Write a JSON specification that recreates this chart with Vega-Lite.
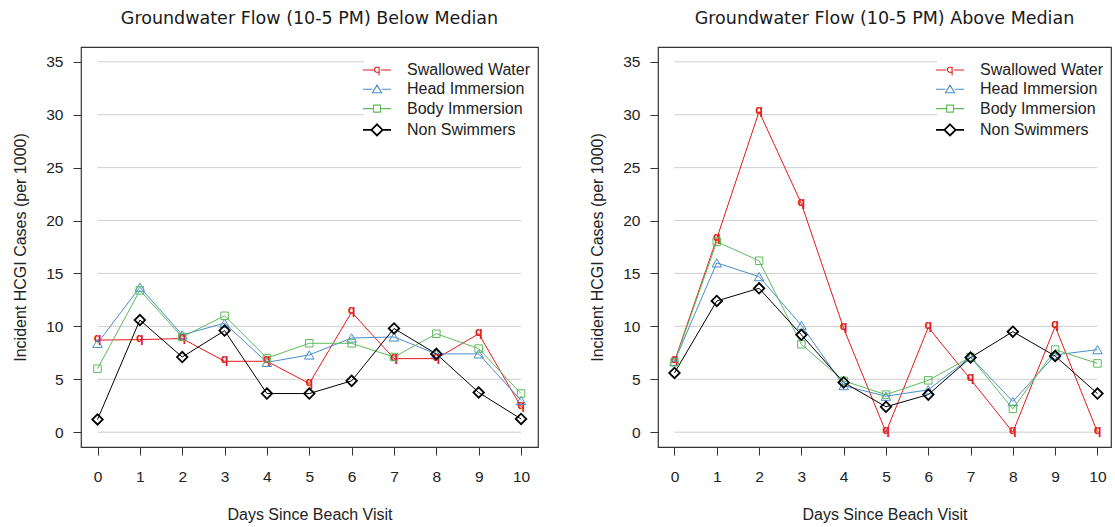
{
  "$schema": "https://vega.github.io/schema/vega-lite/v6.json",
  "background": "white",
  "padding": {"left": 12, "top": 8, "right": 0, "bottom": 0},
  "spacing": 120,
  "bounds": "flush",
  "config": {
    "font": "Liberation Sans",
    "view": {"stroke": "#333333", "strokeWidth": 1.2},
    "axis": {"domain": false, "grid": false, "tickColor": "#333333", "tickSize": 8, "tickWidth": 1, "labelFont": "Liberation Sans", "labelFontSize": 15.5, "labelColor": "#222222", "titleFont": "Liberation Sans", "titleFontSize": 16, "titleFontWeight": "normal", "titleColor": "#222222"},
    "axisX": {"labelPadding": 14, "titlePadding": 22},
    "axisY": {"labelPadding": 10, "titlePadding": 17},
    "title": {"font": "DejaVu Sans", "fontSize": 17.5, "fontWeight": "normal", "color": "#1a1a1a", "anchor": "middle", "baseline": "alphabetic", "offset": 20}
  },
  "datasets": {
    "below": [
      {"s": "Swallowed Water", "d": 0, "v": 8.7}, {"s": "Swallowed Water", "d": 1, "v": 8.75}, {"s": "Swallowed Water", "d": 2, "v": 8.85}, {"s": "Swallowed Water", "d": 3, "v": 6.7}, {"s": "Swallowed Water", "d": 4, "v": 6.7}, {"s": "Swallowed Water", "d": 5, "v": 4.6}, {"s": "Swallowed Water", "d": 6, "v": 11.35}, {"s": "Swallowed Water", "d": 7, "v": 6.95}, {"s": "Swallowed Water", "d": 8, "v": 6.95}, {"s": "Swallowed Water", "d": 9, "v": 9.3}, {"s": "Swallowed Water", "d": 10, "v": 2.4},
      {"s": "Head Immersion", "d": 0, "v": 8.4}, {"s": "Head Immersion", "d": 1, "v": 13.7}, {"s": "Head Immersion", "d": 2, "v": 9.2}, {"s": "Head Immersion", "d": 3, "v": 10.3}, {"s": "Head Immersion", "d": 4, "v": 6.6}, {"s": "Head Immersion", "d": 5, "v": 7.3}, {"s": "Head Immersion", "d": 6, "v": 8.9}, {"s": "Head Immersion", "d": 7, "v": 9.0}, {"s": "Head Immersion", "d": 8, "v": 7.4}, {"s": "Head Immersion", "d": 9, "v": 7.4}, {"s": "Head Immersion", "d": 10, "v": 3.0},
      {"s": "Body Immersion", "d": 0, "v": 6.0}, {"s": "Body Immersion", "d": 1, "v": 13.4}, {"s": "Body Immersion", "d": 2, "v": 9.0}, {"s": "Body Immersion", "d": 3, "v": 11.0}, {"s": "Body Immersion", "d": 4, "v": 7.0}, {"s": "Body Immersion", "d": 5, "v": 8.4}, {"s": "Body Immersion", "d": 6, "v": 8.4}, {"s": "Body Immersion", "d": 7, "v": 7.1}, {"s": "Body Immersion", "d": 8, "v": 9.3}, {"s": "Body Immersion", "d": 9, "v": 7.9}, {"s": "Body Immersion", "d": 10, "v": 3.65},
      {"s": "Non Swimmers", "d": 0, "v": 1.2}, {"s": "Non Swimmers", "d": 1, "v": 10.6}, {"s": "Non Swimmers", "d": 2, "v": 7.1}, {"s": "Non Swimmers", "d": 3, "v": 9.6}, {"s": "Non Swimmers", "d": 4, "v": 3.65}, {"s": "Non Swimmers", "d": 5, "v": 3.65}, {"s": "Non Swimmers", "d": 6, "v": 4.85}, {"s": "Non Swimmers", "d": 7, "v": 9.8}, {"s": "Non Swimmers", "d": 8, "v": 7.4}, {"s": "Non Swimmers", "d": 9, "v": 3.75}, {"s": "Non Swimmers", "d": 10, "v": 1.25}
    ],
    "above": [
      {"s": "Swallowed Water", "d": 0, "v": 6.7}, {"s": "Swallowed Water", "d": 1, "v": 18.3}, {"s": "Swallowed Water", "d": 2, "v": 30.3}, {"s": "Swallowed Water", "d": 3, "v": 21.6}, {"s": "Swallowed Water", "d": 4, "v": 9.8}, {"s": "Swallowed Water", "d": 5, "v": 0}, {"s": "Swallowed Water", "d": 6, "v": 9.9}, {"s": "Swallowed Water", "d": 7, "v": 5.0}, {"s": "Swallowed Water", "d": 8, "v": 0}, {"s": "Swallowed Water", "d": 9, "v": 10.0}, {"s": "Swallowed Water", "d": 10, "v": 0},
      {"s": "Head Immersion", "d": 0, "v": 6.7}, {"s": "Head Immersion", "d": 1, "v": 16.0}, {"s": "Head Immersion", "d": 2, "v": 14.7}, {"s": "Head Immersion", "d": 3, "v": 10.1}, {"s": "Head Immersion", "d": 4, "v": 4.4}, {"s": "Head Immersion", "d": 5, "v": 3.4}, {"s": "Head Immersion", "d": 6, "v": 4.0}, {"s": "Head Immersion", "d": 7, "v": 7.1}, {"s": "Head Immersion", "d": 8, "v": 2.9}, {"s": "Head Immersion", "d": 9, "v": 7.3}, {"s": "Head Immersion", "d": 10, "v": 7.8},
      {"s": "Body Immersion", "d": 0, "v": 6.6}, {"s": "Body Immersion", "d": 1, "v": 18.0}, {"s": "Body Immersion", "d": 2, "v": 16.2}, {"s": "Body Immersion", "d": 3, "v": 8.3}, {"s": "Body Immersion", "d": 4, "v": 4.85}, {"s": "Body Immersion", "d": 5, "v": 3.55}, {"s": "Body Immersion", "d": 6, "v": 4.9}, {"s": "Body Immersion", "d": 7, "v": 7.1}, {"s": "Body Immersion", "d": 8, "v": 2.2}, {"s": "Body Immersion", "d": 9, "v": 7.8}, {"s": "Body Immersion", "d": 10, "v": 6.5},
      {"s": "Non Swimmers", "d": 0, "v": 5.6}, {"s": "Non Swimmers", "d": 1, "v": 12.4}, {"s": "Non Swimmers", "d": 2, "v": 13.6}, {"s": "Non Swimmers", "d": 3, "v": 9.2}, {"s": "Non Swimmers", "d": 4, "v": 4.7}, {"s": "Non Swimmers", "d": 5, "v": 2.4}, {"s": "Non Swimmers", "d": 6, "v": 3.55}, {"s": "Non Swimmers", "d": 7, "v": 7.05}, {"s": "Non Swimmers", "d": 8, "v": 9.5}, {"s": "Non Swimmers", "d": 9, "v": 7.2}, {"s": "Non Swimmers", "d": 10, "v": 3.65}
    ]
  },
  "hconcat": [
    {
      "width": 457, "height": 400,
      "title": "Groundwater Flow (10-5 PM) Below Median",
      "layer": [
        {"data": {"values": [{"v": 0}, {"v": 5}, {"v": 10}, {"v": 15}, {"v": 20}, {"v": 25}, {"v": 30}, {"v": 35}]}, "mark": {"type": "rule", "color": "#cfcfcf", "strokeWidth": 1},
         "encoding": {
           "y": {"field": "v", "type": "quantitative", "scale": {"domain": [-1.4, 36.4], "nice": false, "zero": false}, "axis": {"title": "Incident HCGI Cases (per 1000)", "values": [0, 5, 10, 15, 20, 25, 30, 35]}},
           "x": {"datum": 0, "type": "quantitative", "scale": {"domain": [-0.39, 10.4], "nice": false, "zero": false}, "axis": {"title": "Days Since Beach Visit", "values": [0, 1, 2, 3, 4, 5, 6, 7, 8, 9, 10]}},
           "x2": {"datum": 10}}},
        {"data": {"name": "below"}, "mark": {"type": "line"},
         "encoding": {
           "x": {"field": "d", "type": "quantitative", "title": "Days Since Beach Visit"},
           "y": {"field": "v", "type": "quantitative", "title": "Incident HCGI Cases (per 1000)"},
           "color": {"field": "s", "type": "nominal", "scale": {"domain": ["Swallowed Water", "Head Immersion", "Body Immersion", "Non Swimmers"], "range": ["#E41A1C", "#4A8CC8", "#5DBB5A", "#000000"]},
             "legend": {"title": " ", "titleFontSize": 1, "titlePadding": 7, "orient": "top-right", "offset": 2, "padding": 5, "fillColor": "white", "labelFont": "Liberation Sans", "labelFontSize": 16, "labelColor": "#222222", "symbolSize": 196, "labelOffset": 22, "rowPadding": 3.3, "symbolStrokeWidth": 1.2,
               "encode": {"symbols": {"update": {
                 "shape": {"signal": "datum.value === 'Swallowed Water' ? 'M-2,0H-0.55M0.55,0H2M0.3,-0.45V0.75M0.3,-0.4H-0.12L-0.36,-0.2V0.12L-0.12,0.32H0.3' : datum.value === 'Head Immersion' ? 'M-2,0H-0.65M0.65,0H2M0,-0.6L0.65,0.5L-0.65,0.5Z' : datum.value === 'Body Immersion' ? 'M-2,0H-0.55M0.55,0H2M-0.5,-0.5H0.5V0.5H-0.5Z' : 'M-2,0H-0.8M0.8,0H2M0,-0.8L0.8,0L0,0.8L-0.8,0Z'"},
                 "strokeWidth": {"signal": "datum.value === 'Non Swimmers' ? 1.8 : 1.1"},
                 "fill": {"value": "transparent"}}}}}},
           "strokeWidth": {"field": "s", "type": "nominal", "scale": {"domain": ["Swallowed Water", "Head Immersion", "Body Immersion", "Non Swimmers"], "range": [1, 1, 1, 1.8]}, "legend": null}
         }},
        {"data": {"name": "below"}, "transform": [{"filter": "datum.s === 'Swallowed Water'"}], "mark": {"type": "text", "text": "q", "color": "#E41A1C", "font": "Liberation Sans", "fontWeight": "bold", "fontSize": 12.5, "baseline": "alphabetic", "align": "center", "dy": 2},
         "encoding": {"x": {"field": "d", "type": "quantitative", "title": "Days Since Beach Visit"}, "y": {"field": "v", "type": "quantitative", "title": "Incident HCGI Cases (per 1000)"}}},
        {"data": {"name": "below"}, "transform": [{"filter": "datum.s === 'Head Immersion'"}], "mark": {"type": "point", "shape": "triangle-up", "filled": false, "color": "#4A8CC8", "strokeWidth": 1, "size": 90, "opacity": 1},
         "encoding": {"x": {"field": "d", "type": "quantitative", "title": "Days Since Beach Visit"}, "y": {"field": "v", "type": "quantitative", "title": "Incident HCGI Cases (per 1000)"}}},
        {"data": {"name": "below"}, "transform": [{"filter": "datum.s === 'Body Immersion'"}], "mark": {"type": "point", "shape": "square", "filled": false, "color": "#5DBB5A", "strokeWidth": 1, "size": 56, "opacity": 1},
         "encoding": {"x": {"field": "d", "type": "quantitative", "title": "Days Since Beach Visit"}, "y": {"field": "v", "type": "quantitative", "title": "Incident HCGI Cases (per 1000)"}}},
        {"data": {"name": "below"}, "transform": [{"filter": "datum.s === 'Non Swimmers'"}], "mark": {"type": "point", "shape": "diamond", "filled": false, "color": "#000000", "strokeWidth": 1.8, "size": 110, "opacity": 1},
         "encoding": {"x": {"field": "d", "type": "quantitative", "title": "Days Since Beach Visit"}, "y": {"field": "v", "type": "quantitative", "title": "Incident HCGI Cases (per 1000)"}}}
      ]
    },
    {
      "width": 453, "height": 400,
      "title": "Groundwater Flow (10-5 PM) Above Median",
      "layer": [
        {"data": {"values": [{"v": 0}, {"v": 5}, {"v": 10}, {"v": 15}, {"v": 20}, {"v": 25}, {"v": 30}, {"v": 35}]}, "mark": {"type": "rule", "color": "#cfcfcf", "strokeWidth": 1},
         "encoding": {
           "y": {"field": "v", "type": "quantitative", "scale": {"domain": [-1.4, 36.4], "nice": false, "zero": false}, "axis": {"title": "Incident HCGI Cases (per 1000)", "values": [0, 5, 10, 15, 20, 25, 30, 35]}},
           "x": {"datum": 0, "type": "quantitative", "scale": {"domain": [-0.39, 10.32], "nice": false, "zero": false}, "axis": {"title": "Days Since Beach Visit", "values": [0, 1, 2, 3, 4, 5, 6, 7, 8, 9, 10]}},
           "x2": {"datum": 10}}},
        {"data": {"name": "above"}, "mark": {"type": "line"},
         "encoding": {
           "x": {"field": "d", "type": "quantitative", "title": "Days Since Beach Visit"},
           "y": {"field": "v", "type": "quantitative", "title": "Incident HCGI Cases (per 1000)"},
           "color": {"field": "s", "type": "nominal", "scale": {"domain": ["Swallowed Water", "Head Immersion", "Body Immersion", "Non Swimmers"], "range": ["#E41A1C", "#4A8CC8", "#5DBB5A", "#000000"]},
             "legend": {"title": " ", "titleFontSize": 1, "titlePadding": 7, "orient": "top-right", "offset": 2, "padding": 5, "fillColor": "white", "labelFont": "Liberation Sans", "labelFontSize": 16, "labelColor": "#222222", "symbolSize": 196, "labelOffset": 22, "rowPadding": 3.3, "symbolStrokeWidth": 1.2,
               "encode": {"symbols": {"update": {
                 "shape": {"signal": "datum.value === 'Swallowed Water' ? 'M-2,0H-0.55M0.55,0H2M0.3,-0.45V0.75M0.3,-0.4H-0.12L-0.36,-0.2V0.12L-0.12,0.32H0.3' : datum.value === 'Head Immersion' ? 'M-2,0H-0.65M0.65,0H2M0,-0.6L0.65,0.5L-0.65,0.5Z' : datum.value === 'Body Immersion' ? 'M-2,0H-0.55M0.55,0H2M-0.5,-0.5H0.5V0.5H-0.5Z' : 'M-2,0H-0.8M0.8,0H2M0,-0.8L0.8,0L0,0.8L-0.8,0Z'"},
                 "strokeWidth": {"signal": "datum.value === 'Non Swimmers' ? 1.8 : 1.1"},
                 "fill": {"value": "transparent"}}}}}},
           "strokeWidth": {"field": "s", "type": "nominal", "scale": {"domain": ["Swallowed Water", "Head Immersion", "Body Immersion", "Non Swimmers"], "range": [1, 1, 1, 1.8]}, "legend": null}
         }},
        {"data": {"name": "above"}, "transform": [{"filter": "datum.s === 'Swallowed Water'"}], "mark": {"type": "text", "text": "q", "color": "#E41A1C", "font": "Liberation Sans", "fontWeight": "bold", "fontSize": 12.5, "baseline": "alphabetic", "align": "center", "dy": 2},
         "encoding": {"x": {"field": "d", "type": "quantitative", "title": "Days Since Beach Visit"}, "y": {"field": "v", "type": "quantitative", "title": "Incident HCGI Cases (per 1000)"}}},
        {"data": {"name": "above"}, "transform": [{"filter": "datum.s === 'Head Immersion'"}], "mark": {"type": "point", "shape": "triangle-up", "filled": false, "color": "#4A8CC8", "strokeWidth": 1, "size": 90, "opacity": 1},
         "encoding": {"x": {"field": "d", "type": "quantitative", "title": "Days Since Beach Visit"}, "y": {"field": "v", "type": "quantitative", "title": "Incident HCGI Cases (per 1000)"}}},
        {"data": {"name": "above"}, "transform": [{"filter": "datum.s === 'Body Immersion'"}], "mark": {"type": "point", "shape": "square", "filled": false, "color": "#5DBB5A", "strokeWidth": 1, "size": 56, "opacity": 1},
         "encoding": {"x": {"field": "d", "type": "quantitative", "title": "Days Since Beach Visit"}, "y": {"field": "v", "type": "quantitative", "title": "Incident HCGI Cases (per 1000)"}}},
        {"data": {"name": "above"}, "transform": [{"filter": "datum.s === 'Non Swimmers'"}], "mark": {"type": "point", "shape": "diamond", "filled": false, "color": "#000000", "strokeWidth": 1.8, "size": 110, "opacity": 1},
         "encoding": {"x": {"field": "d", "type": "quantitative", "title": "Days Since Beach Visit"}, "y": {"field": "v", "type": "quantitative", "title": "Incident HCGI Cases (per 1000)"}}}
      ]
    }
  ],
  "resolve": {
    "scale": {"color": "independent", "x": "independent", "y": "independent"},
    "legend": {"color": "independent"}
  }
}
